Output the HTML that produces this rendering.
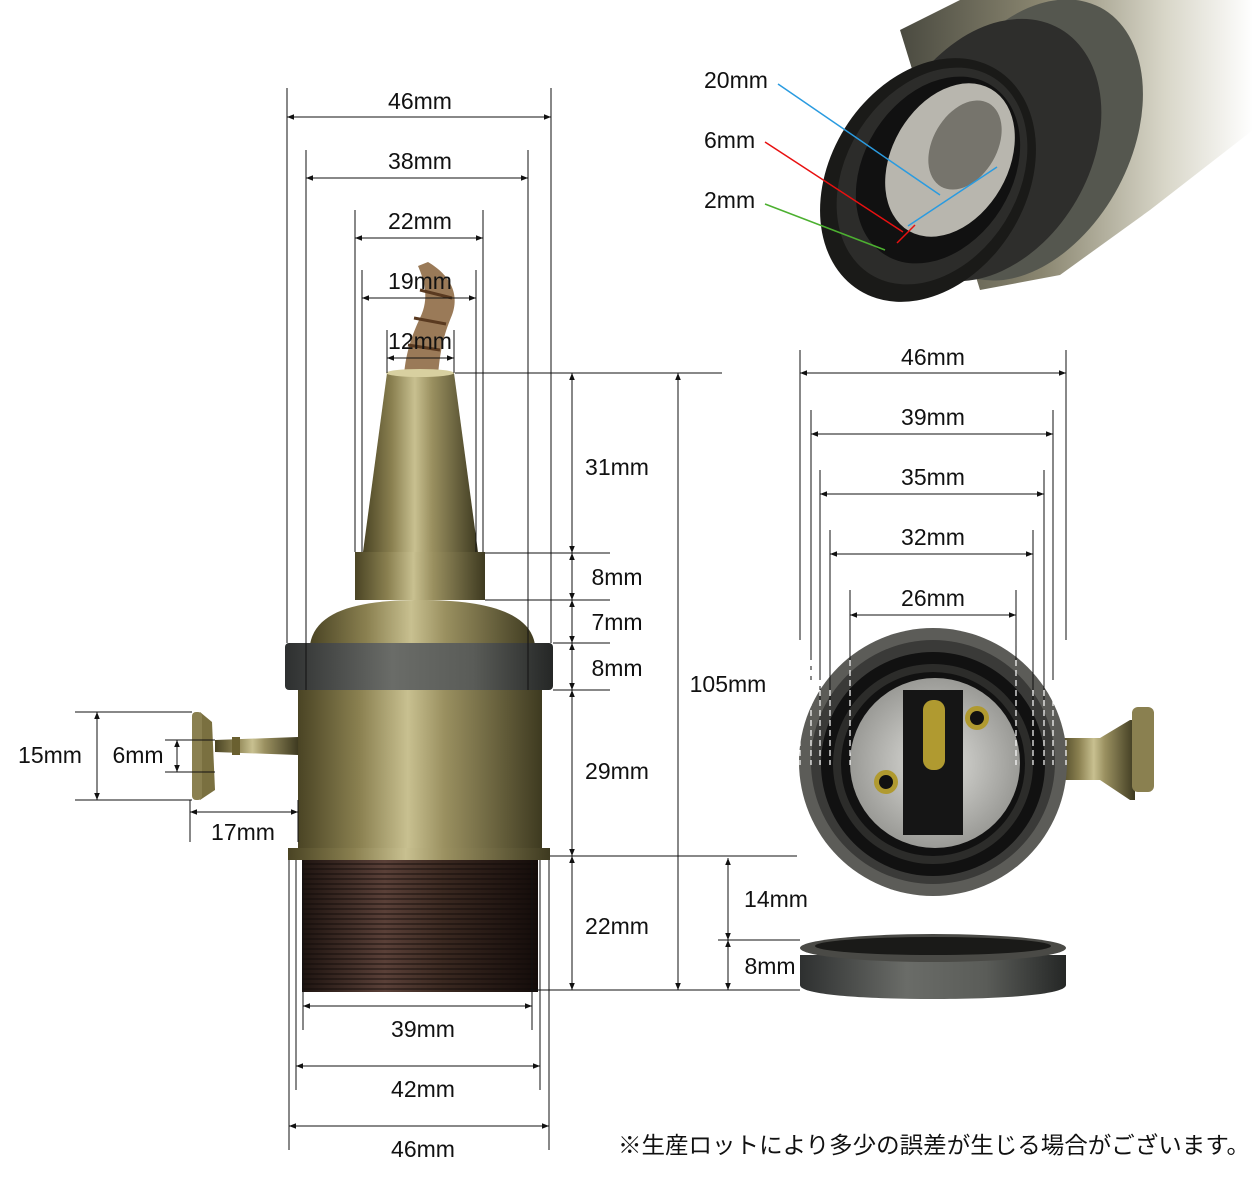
<!DOCTYPE html>
<html><head><meta charset="utf-8">
<style>
html,body{margin:0;padding:0;background:#fff;}
svg{display:block;}
text{font-family:"Liberation Sans","Noto Sans CJK JP",sans-serif;font-size:23px;fill:#111;}
</style></head><body>
<svg width="1253" height="1200" viewBox="0 0 1253 1200" xmlns="http://www.w3.org/2000/svg">
<defs>
<marker id="a" viewBox="0 0 10 10" refX="10" refY="5" markerWidth="7" markerHeight="7" orient="auto-start-reverse"><path d="M0,1 L10,5 L0,9 z" fill="#111"/></marker>
<linearGradient id="brass" x1="0" x2="1" y1="0" y2="0">
<stop offset="0" stop-color="#4a4424"/><stop offset="0.25" stop-color="#8a8050"/><stop offset="0.45" stop-color="#c8c090"/><stop offset="0.6" stop-color="#9a9060"/><stop offset="1" stop-color="#3e3a20"/></linearGradient>
<linearGradient id="knurl" x1="0" x2="1"><stop offset="0" stop-color="#2e3030"/><stop offset="0.4" stop-color="#6a6c68"/><stop offset="0.7" stop-color="#5a5c58"/><stop offset="1" stop-color="#252726"/></linearGradient>
<linearGradient id="thread" x1="0" x2="1"><stop offset="0" stop-color="#1e1410"/><stop offset="0.35" stop-color="#5a4038"/><stop offset="0.6" stop-color="#3a2820"/><stop offset="1" stop-color="#140c0a"/></linearGradient>
<pattern id="thr" width="6" height="5" patternUnits="userSpaceOnUse"><line x1="0" y1="4" x2="6" y2="4" stroke="#0e0806" stroke-width="1.2" opacity="0.7"/></pattern>
<radialGradient id="silver" cx="0.5" cy="0.5" r="0.5"><stop offset="0" stop-color="#e0e0dc"/><stop offset="1" stop-color="#9a9a96"/></radialGradient>
<linearGradient id="tr" x1="0" x2="1"><stop offset="0" stop-color="#4a4a40"/><stop offset="0.4" stop-color="#8a8670"/><stop offset="0.75" stop-color="#d8d6c8"/><stop offset="1" stop-color="#ffffff"/></linearGradient>
</defs>

<!-- ========== TOP RIGHT PHOTO ========== -->
<g>
<path d="M900,30 L960,0 L1253,0 L1253,130 L1150,210 L1060,275 L980,290 Z" fill="url(#tr)"/>
<ellipse cx="1030" cy="140" rx="100" ry="150" transform="rotate(28 1030 140)" fill="#55574f"/>
<ellipse cx="990" cy="150" rx="100" ry="140" transform="rotate(30 990 150)" fill="#2e2e2c"/>
<ellipse cx="928" cy="180" rx="98" ry="130" transform="rotate(32 928 180)" fill="#1a1a18"/>
<ellipse cx="932" cy="176" rx="86" ry="116" transform="rotate(32 932 176)" fill="#2c2c2a"/>
<ellipse cx="938" cy="170" rx="74" ry="100" transform="rotate(32 938 170)" fill="#111"/>
<ellipse cx="950" cy="160" rx="58" ry="82" transform="rotate(30 950 160)" fill="#b8b6ae"/>
<ellipse cx="965" cy="145" rx="32" ry="48" transform="rotate(30 965 145)" fill="#76746c"/>
</g>
<line x1="778" y1="84" x2="940" y2="195" stroke="#2a9be0" stroke-width="1.5"/>
<line x1="908" y1="226" x2="997" y2="167" stroke="#2a9be0" stroke-width="1.5"/>
<line x1="765" y1="142" x2="903" y2="232" stroke="#e81010" stroke-width="1.5"/>
<line x1="897" y1="243" x2="915" y2="225" stroke="#e81010" stroke-width="1.5"/>
<line x1="765" y1="204" x2="885" y2="250" stroke="#4cb030" stroke-width="1.5"/>
<text x="704" y="88">20mm</text>
<text x="704" y="148">6mm</text>
<text x="704" y="208">2mm</text>

<!-- ========== LEFT SOCKET ========== -->
<path d="M428,262 C450,275 462,295 450,320 C442,340 440,355 438,375 L404,375 C406,352 412,335 420,318 C430,298 424,280 418,266 Z" fill="#9a7a58"/>
<path d="M420,290 L452,298 M414,318 L446,324 M408,345 L440,350" stroke="#5a3a20" stroke-width="3"/>
<path d="M387,373 L454,373 L478,552 L363,552 Z" fill="url(#brass)"/>
<ellipse cx="420" cy="373" rx="34" ry="4" fill="#d8d0a0"/>
<rect x="355" y="552" width="130" height="48" fill="url(#brass)"/>
<path d="M310,645 C315,610 360,600 420,600 C480,600 530,610 535,645 Z" fill="url(#brass)"/>
<rect x="285" y="643" width="268" height="47" rx="4" fill="url(#knurl)"/>
<rect x="298" y="690" width="244" height="160" fill="url(#brass)"/>
<rect x="288" y="848" width="262" height="12" fill="url(#brass)"/>
<rect x="302" y="860" width="236" height="132" fill="url(#thread)"/>
<rect x="302" y="860" width="236" height="132" fill="url(#thr)"/>
<path d="M215,740 L298,737 L298,755 L215,752 Z" fill="url(#brass)"/>
<rect x="232" y="737" width="8" height="18" fill="#6a6030"/>
<path d="M200,712 L212,722 L215,790 L200,800 Z" fill="#7a7040"/>
<rect x="192" y="712" width="10" height="88" rx="4" fill="#8a8050"/>

<!-- ========== RIGHT SOCKET ========== -->
<path d="M1060,738 L1100,738 L1130,720 L1135,720 L1135,800 L1130,800 L1100,780 L1060,780 Z" fill="url(#brass)"/>
<rect x="1132" y="707" width="22" height="85" rx="6" fill="#8a8050"/>
<circle cx="933" cy="762" r="134" fill="#5c5c58"/>
<circle cx="933" cy="762" r="122" fill="#3a3a38"/>
<circle cx="933" cy="764" r="112" fill="#111"/>
<circle cx="933" cy="764" r="100" fill="#2c2c2a"/>
<circle cx="933" cy="764" r="92" fill="#111"/>
<circle cx="935" cy="763" r="85" fill="url(#silver)"/>
<path d="M903,690 L963,690 L963,835 L903,835 Z" fill="#151515"/>
<rect x="923" y="700" width="22" height="70" rx="10" fill="#b09a30"/>
<circle cx="977" cy="718" r="12" fill="#b09a30"/><circle cx="977" cy="718" r="7" fill="#111"/>
<circle cx="886" cy="782" r="12" fill="#b09a30"/><circle cx="886" cy="782" r="7" fill="#111"/>
<path d="M800,955 L1066,955 L1066,985 C1066,995 1000,999 933,999 C866,999 800,995 800,985 Z" fill="url(#knurl)"/>
<ellipse cx="933" cy="948" rx="133" ry="14" fill="#4a4a46"/>
<ellipse cx="933" cy="946" rx="118" ry="9" fill="#1a1a18"/>

<!-- ========== DIMENSION LINES ========== -->
<g stroke="#111" stroke-width="1" fill="none">
<line x1="287" y1="88" x2="287" y2="643"/><line x1="551" y1="88" x2="551" y2="643"/>
<line x1="306" y1="150" x2="306" y2="690"/><line x1="528" y1="150" x2="528" y2="690"/>
<line x1="355" y1="210" x2="355" y2="552"/><line x1="483" y1="210" x2="483" y2="552"/>
<line x1="362" y1="270" x2="362" y2="552"/><line x1="476" y1="270" x2="476" y2="552"/>
<line x1="387" y1="330" x2="387" y2="373"/><line x1="454" y1="330" x2="454" y2="373"/>
<line x1="287" y1="117" x2="551" y2="117" marker-start="url(#a)" marker-end="url(#a)"/>
<line x1="306" y1="178" x2="528" y2="178" marker-start="url(#a)" marker-end="url(#a)"/>
<line x1="355" y1="238" x2="483" y2="238" marker-start="url(#a)" marker-end="url(#a)"/>
<line x1="362" y1="298" x2="476" y2="298" marker-start="url(#a)" marker-end="url(#a)"/>
<line x1="387" y1="358" x2="454" y2="358" marker-start="url(#a)" marker-end="url(#a)"/>
<line x1="455" y1="373" x2="722" y2="373"/>
<line x1="485" y1="553" x2="610" y2="553"/>
<line x1="485" y1="600" x2="610" y2="600"/>
<line x1="553" y1="643" x2="610" y2="643"/>
<line x1="553" y1="690" x2="610" y2="690"/>
<line x1="550" y1="856" x2="797" y2="856"/>
<line x1="530" y1="990" x2="800" y2="990"/>
<line x1="718" y1="940" x2="800" y2="940"/>
<line x1="572" y1="373" x2="572" y2="553" marker-start="url(#a)" marker-end="url(#a)"/>
<line x1="572" y1="553" x2="572" y2="600" marker-start="url(#a)" marker-end="url(#a)"/>
<line x1="572" y1="600" x2="572" y2="643" marker-start="url(#a)" marker-end="url(#a)"/>
<line x1="572" y1="643" x2="572" y2="690" marker-start="url(#a)" marker-end="url(#a)"/>
<line x1="572" y1="690" x2="572" y2="856" marker-start="url(#a)" marker-end="url(#a)"/>
<line x1="572" y1="856" x2="572" y2="990" marker-start="url(#a)" marker-end="url(#a)"/>
<line x1="678" y1="373" x2="678" y2="990" marker-start="url(#a)" marker-end="url(#a)"/>
<line x1="728" y1="858" x2="728" y2="940" marker-start="url(#a)" marker-end="url(#a)"/>
<line x1="728" y1="940" x2="728" y2="990" marker-start="url(#a)" marker-end="url(#a)"/>
<line x1="75" y1="712" x2="192" y2="712"/><line x1="75" y1="800" x2="192" y2="800"/>
<line x1="97" y1="712" x2="97" y2="800" marker-start="url(#a)" marker-end="url(#a)"/>
<line x1="165" y1="740" x2="215" y2="740"/><line x1="165" y1="772" x2="215" y2="772"/>
<line x1="177" y1="740" x2="177" y2="772" marker-start="url(#a)" marker-end="url(#a)"/>
<line x1="190" y1="800" x2="190" y2="842"/><line x1="298" y1="800" x2="298" y2="842"/>
<line x1="190" y1="812" x2="298" y2="812" marker-start="url(#a)" marker-end="url(#a)"/>
<line x1="303" y1="860" x2="303" y2="1030"/><line x1="532" y1="860" x2="532" y2="1030"/>
<line x1="296" y1="860" x2="296" y2="1090"/><line x1="540" y1="860" x2="540" y2="1090"/>
<line x1="289" y1="860" x2="289" y2="1150"/><line x1="549" y1="860" x2="549" y2="1150"/>
<line x1="303" y1="1006" x2="532" y2="1006" marker-start="url(#a)" marker-end="url(#a)"/>
<line x1="296" y1="1066" x2="540" y2="1066" marker-start="url(#a)" marker-end="url(#a)"/>
<line x1="289" y1="1126" x2="549" y2="1126" marker-start="url(#a)" marker-end="url(#a)"/>
<line x1="800" y1="350" x2="800" y2="640"/><line x1="1066" y1="350" x2="1066" y2="640"/>
<line x1="811" y1="410" x2="811" y2="680"/><line x1="1053" y1="410" x2="1053" y2="680"/>
<line x1="820" y1="470" x2="820" y2="700"/><line x1="1044" y1="470" x2="1044" y2="700"/>
<line x1="830" y1="530" x2="830" y2="700"/><line x1="1033" y1="530" x2="1033" y2="700"/>
<line x1="850" y1="590" x2="850" y2="660"/><line x1="1016" y1="590" x2="1016" y2="660"/>
<line x1="800" y1="373" x2="1066" y2="373" marker-start="url(#a)" marker-end="url(#a)"/>
<line x1="811" y1="434" x2="1053" y2="434" marker-start="url(#a)" marker-end="url(#a)"/>
<line x1="820" y1="494" x2="1044" y2="494" marker-start="url(#a)" marker-end="url(#a)"/>
<line x1="830" y1="554" x2="1033" y2="554" marker-start="url(#a)" marker-end="url(#a)"/>
<line x1="850" y1="615" x2="1016" y2="615" marker-start="url(#a)" marker-end="url(#a)"/>
</g>
<g stroke="#fff" stroke-width="1.2" stroke-dasharray="6 4" fill="none">
<line x1="800" y1="640" x2="800" y2="765"/><line x1="811" y1="660" x2="811" y2="765"/><line x1="820" y1="680" x2="820" y2="765"/><line x1="830" y1="690" x2="830" y2="765"/><line x1="850" y1="660" x2="850" y2="765"/>
<line x1="1016" y1="660" x2="1016" y2="765"/><line x1="1033" y1="690" x2="1033" y2="765"/><line x1="1044" y1="690" x2="1044" y2="765"/><line x1="1053" y1="680" x2="1053" y2="765"/><line x1="1066" y1="640" x2="1066" y2="765"/>
</g>

<g text-anchor="middle">
<text x="420" y="109">46mm</text>
<text x="420" y="169">38mm</text>
<text x="420" y="229">22mm</text>
<text x="420" y="289">19mm</text>
<text x="420" y="349">12mm</text>
<text x="617" y="475">31mm</text>
<text x="617" y="585">8mm</text>
<text x="617" y="630">7mm</text>
<text x="617" y="676">8mm</text>
<text x="617" y="779">29mm</text>
<text x="617" y="934">22mm</text>
<text x="728" y="692">105mm</text>
<text x="776" y="907">14mm</text>
<text x="770" y="974">8mm</text>
<text x="50" y="763">15mm</text>
<text x="138" y="763">6mm</text>
<text x="243" y="840">17mm</text>
<text x="423" y="1037">39mm</text>
<text x="423" y="1097">42mm</text>
<text x="423" y="1157">46mm</text>
<text x="933" y="365">46mm</text>
<text x="933" y="425">39mm</text>
<text x="933" y="485">35mm</text>
<text x="933" y="545">32mm</text>
<text x="933" y="606">26mm</text>
</g>
<text x="618" y="1153" textLength="632" lengthAdjust="spacingAndGlyphs">※生産ロットにより多少の誤差が生じる場合がございます。</text>
</svg>
</body></html>
